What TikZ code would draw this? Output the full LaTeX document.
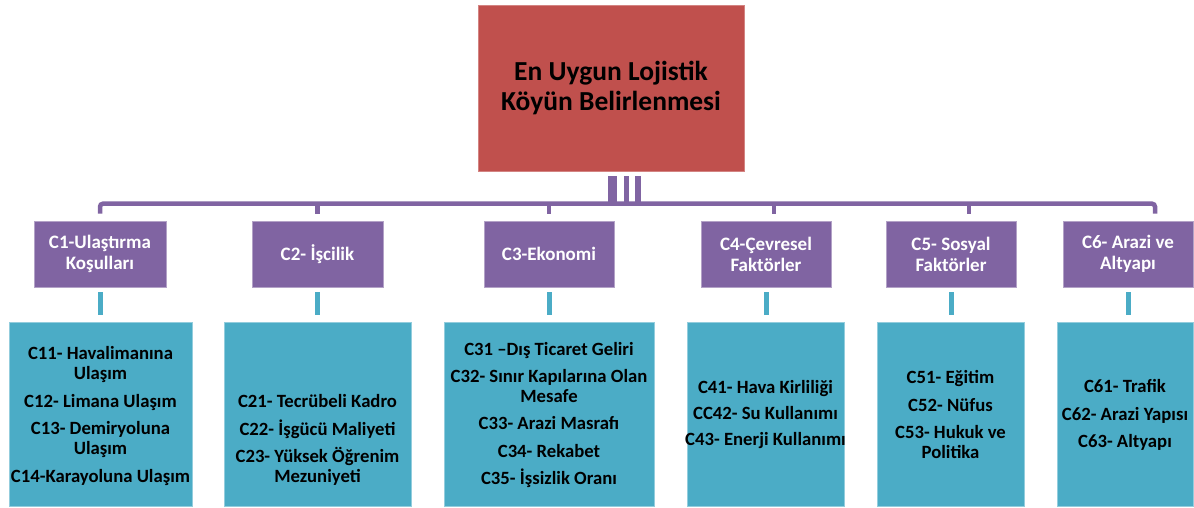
\documentclass[tikz,border=0pt]{standalone}
\usepackage{fontspec}
\setmainfont{Carlito}
\usetikzlibrary{calc}
\definecolor{rootred}{HTML}{C0504D}
\definecolor{catpurple}{HTML}{8064A2}
\definecolor{subteal}{HTML}{4BACC6}
\begin{document}
\begin{tikzpicture}[x=1pt,y=-1pt,
  rootbox/.style={fill=rootred, draw=rootred!70!white, line width=0.6pt, minimum width=266pt, minimum height=166pt, inner sep=0pt, font=\fontsize{27.5}{30}\selectfont\bfseries, align=center, text=black},
  catbox/.style={fill=catpurple, draw=catpurple!60!white, line width=0.6pt, minimum height=66pt, inner sep=0pt, font=\fontsize{19}{21}\selectfont\bfseries, align=center, text=white},
  subbox/.style={fill=subteal, draw=subteal!60!white, line width=0.6pt, minimum height=184pt, inner sep=0pt},
  subtext/.style={font=\fontsize{18.7}{20}\selectfont\bfseries, align=center, text=black, inner sep=0pt},
  bus/.style={draw=catpurple, line width=4.5pt},
  tealdrop/.style={draw=subteal, line width=5pt},
]
\useasboundingbox (0,0) rectangle (1194,507);

% root
\node[rootbox] (root) at (611,88) {En Uygun Lojistik\\Köyün Belirlenmesi};

% category boxes
\node[catbox, minimum width=132pt] (p1) at (100,254) {C1-Ulaştırma\\Koşulları};
\node[catbox, minimum width=131pt] (p2) at (317.5,254) {C2- İşcilik};
\node[catbox, minimum width=130pt] (p3) at (549,254) {C3-Ekonomi};
\node[catbox, minimum width=130pt] (p4) at (766,254) {C4-Çevresel\\Faktörler};
\node[catbox, minimum width=130pt] (p5) at (951,254) {C5- Sosyal\\Faktörler};
\node[catbox, minimum width=130pt] (p6) at (1128,254) {C6- Arazi ve\\Altyapı};

% sub boxes
\node[subbox, minimum width=183pt] (t1) at (100.5,414) {};
\node[subbox, minimum width=187pt] (t2) at (317.5,414) {};
\node[subbox, minimum width=210pt] (t3) at (549,414) {};
\node[subbox, minimum width=157pt] (t4) at (765.5,414) {};
\node[subbox, minimum width=147pt] (t5) at (950.5,414) {};
\node[subbox, minimum width=136pt] (t6) at (1125,414) {};

\node[subtext] (t1l) at (100.5,416) {C11- Havalimanına\\Ulaşım\\[7.5pt]C12- Limana Ulaşım\\[7.5pt]C13- Demiryoluna\\Ulaşım\\[7.5pt]C14-Karayoluna Ulaşım};
\node[subtext] (t2l) at (317.5,440) {C21- Tecrübeli Kadro\\[7.5pt]C22- İşgücü Maliyeti\\[7.5pt]C23- Yüksek Öğrenim\\Mezuniyeti};
\node[subtext] (t3l) at (549,415) {C31 –Dış Ticaret Geliri\\[7.5pt]C32- Sınır Kapılarına Olan\\Mesafe\\[7.5pt]C33- Arazi Masrafı\\[7.5pt]C34- Rekabet\\[7.5pt]C35- İşsizlik Oranı};
\node[subtext] (t4l) at (765.5,415) {C41- Hava Kirliliği\\[6pt]CC42- Su Kullanımı\\[6pt]C43- Enerji Kullanımı};
\node[subtext] (t5l) at (950.5,414.5) {C51- Eğitim\\[7.5pt]C52- Nüfus\\[7.5pt]C53- Hukuk ve\\Politika};
\node[subtext] (t6l) at (1125,415) {C61- Trafik\\[7.5pt]C62- Arazi Yapısı\\[7.5pt]C63- Altyapı};

% connectors root -> bus
\coordinate (busL) at (100,204);
\path ($(root.south)+(1.5,5)$) coordinate (b1top)
      ($(root.south)+(15.5,5)$) coordinate (b2top)
      ($(root.south)+(27,5)$) coordinate (b3top);
\draw[draw=catpurple, line width=9pt] (b1top) -- (b1top |- busL);
\draw[draw=catpurple, line width=5pt] (b2top) -- (b2top |- busL);
\draw[draw=catpurple, line width=6pt] (b3top) -- (b3top |- busL);

% bus with end drops
\draw[bus, rounded corners=3pt] ($(p1.north)+(0,-7)$) -- ($(p1.north)+(0,-17)$) -- ($(p6.north)+(27,-17)$) -- ($(p6.north)+(27,-7)$);
\draw[bus] ($(p2.north)+(0,-7)$) -- ++(0,-10);
\draw[bus] ($(p3.north)+(0,-7)$) -- ++(0,-10);
\draw[bus] ($(p4.north)+(8,-7)$) -- ++(0,-10);
\draw[bus] ($(p5.north)+(18,-7)$) -- ++(0,-10);

% teal drops
\foreach \i in {1,...,6}{
  \draw[tealdrop] ($(p\i.south)+(0,5)$) -- ($(p\i.south |- t\i.north)+(0,-7)$);
}
\end{tikzpicture}
\end{document}
